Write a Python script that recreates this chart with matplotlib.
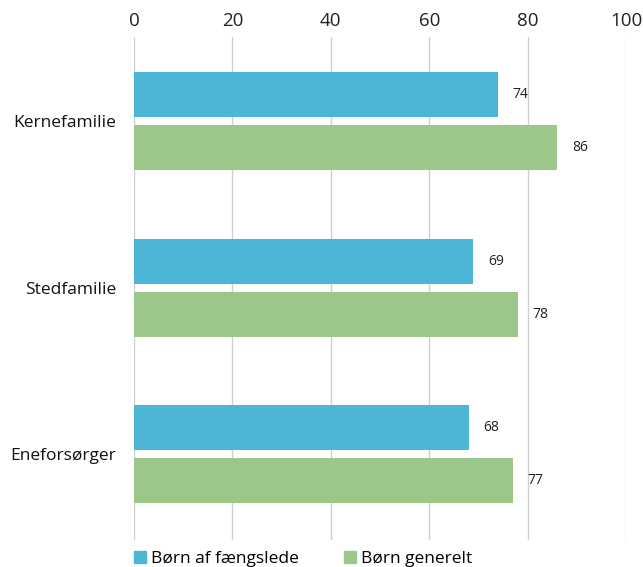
import matplotlib
matplotlib.use("Agg")
import matplotlib.pyplot as plt
import numpy as np
from matplotlib.patches import Patch

categories = ["Kernefamilie", "Stedfamilie", "Eneforsørger"]
series_names = ["Børn af fængslede", "Børn generelt"]
born_faengslede = [74, 69, 68]
born_generelt = [86, 78, 77]
xticks = [0, 20, 40, 60, 80, 100]

blue = "#4BB6D6"
green = "#9BC788"

plt.rcParams['font.family'] = ['Open Sans', 'DejaVu Sans']

fig = plt.figure(figsize=(6.43, 5.67), dpi=100)
ax = fig.add_axes([134/643, 1 - 540/567, (626-134)/643, (540-37)/567])

y = np.arange(len(categories))
h = 0.27
off = 0.159
b1 = ax.barh(y - off, born_faengslede, height=h, color=blue, zorder=2)
b2 = ax.barh(y + off, born_generelt, height=h, color=green, zorder=2)

for rect, v in zip(b1, born_faengslede):
    ax.text(v + 3, rect.get_y() + rect.get_height()/2, str(v), va='center', ha='left', fontsize=10, color='#222222')
for rect, v in zip(b2, born_generelt):
    ax.text(v + 3, rect.get_y() + rect.get_height()/2, str(v), va='center', ha='left', fontsize=10, color='#222222')

ax.set_xlim(0, 100)
ax.set_ylim(2.515, -0.505)
ax.set_xticks(xticks)
ax.xaxis.tick_top()
ax.tick_params(axis='x', length=0, labelsize=13.5, pad=5, colors='#222222')
ax.set_yticks(y)
ax.set_yticklabels(categories)
ax.tick_params(axis='y', length=0, labelsize=12.5, pad=13, colors='#111111')
ax.grid(axis='x', color='#CFCFCF', linewidth=1, zorder=0)
for s in ax.spines.values():
    s.set_visible(False)

handles = [Patch(color=blue), Patch(color=green)]
fig.legend(handles, series_names, loc='center', bbox_to_anchor=(303/643, 1 - 559/567),
           ncol=2, frameon=False, fontsize=12.5, handlelength=0.7, handleheight=0.7,
           handletextpad=0.3, columnspacing=2.6, borderaxespad=0)

fig.savefig("out.png", dpi=100)
